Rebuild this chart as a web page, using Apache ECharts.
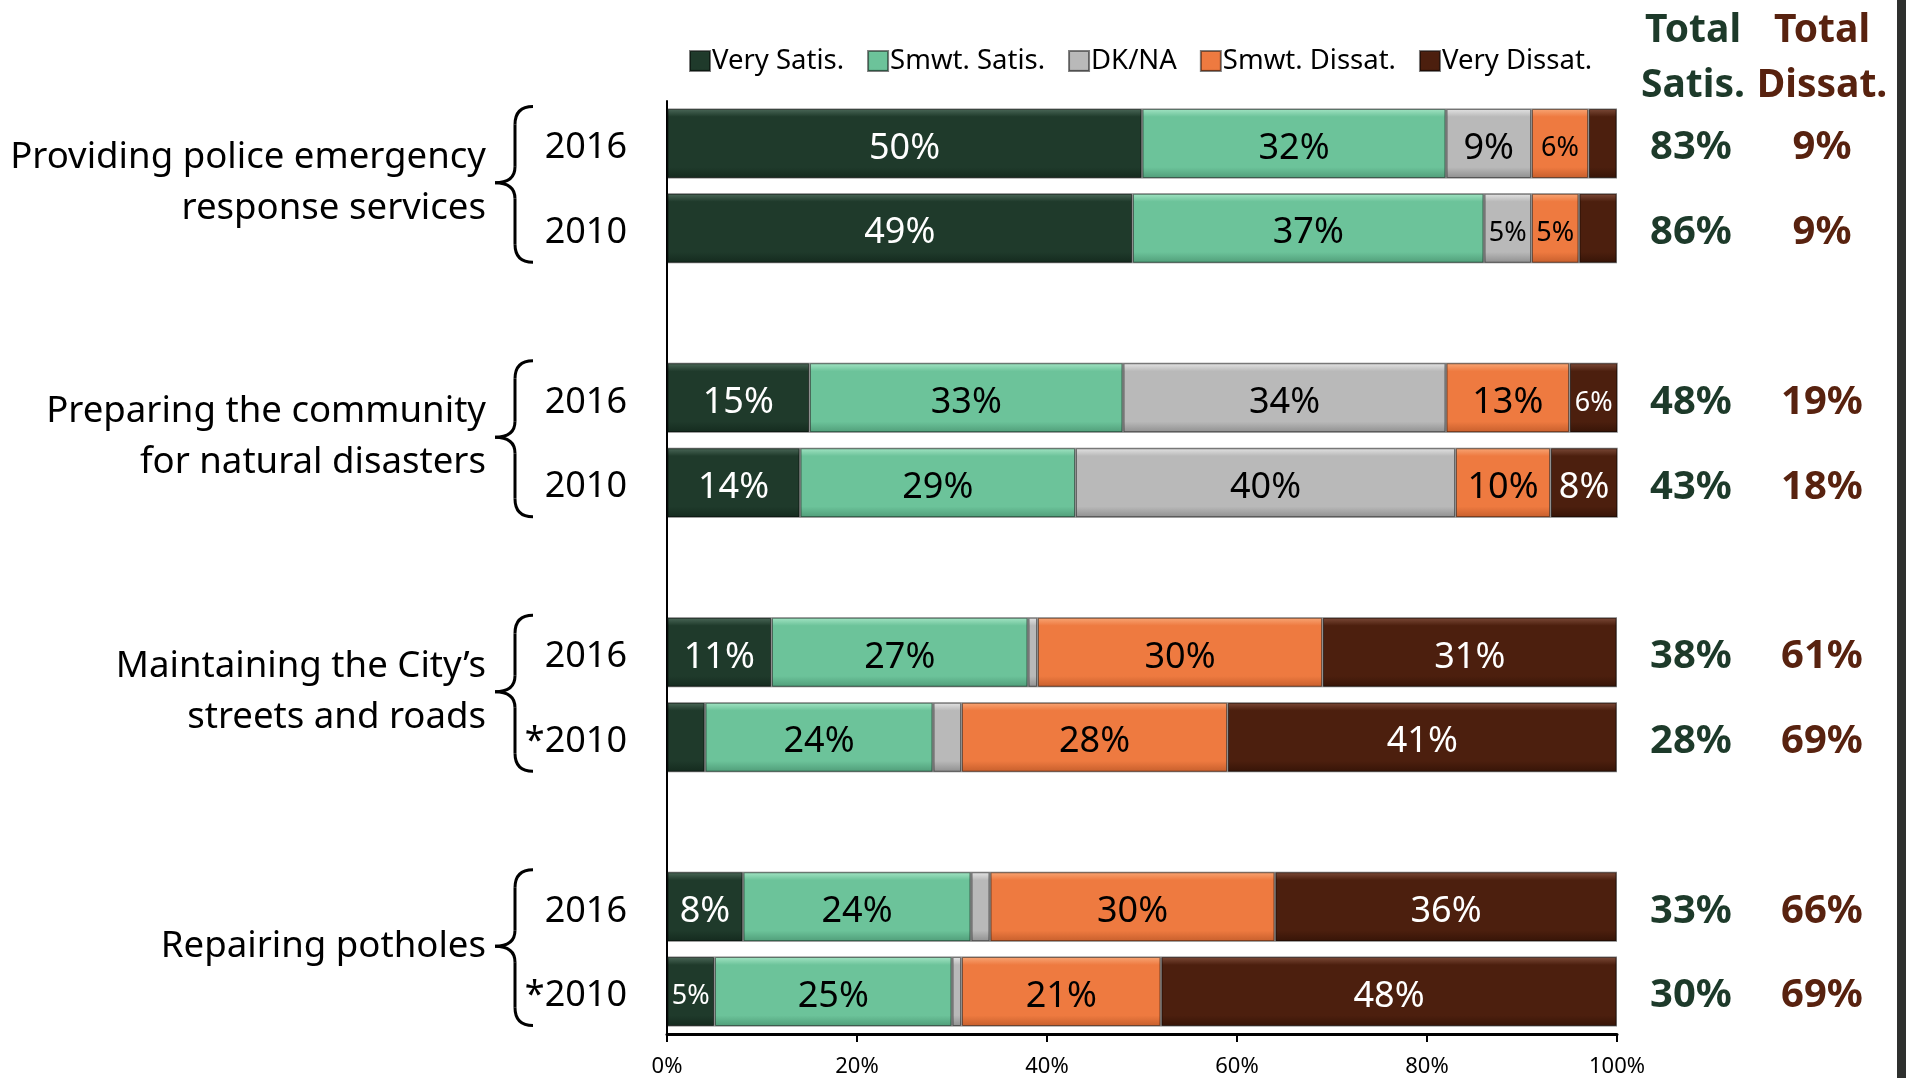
<!DOCTYPE html>
<html>
<head>
<meta charset="utf-8">
<script src="https://cdn.jsdelivr.net/npm/echarts@6/dist/echarts.min.js"></script>
<style>
  html, body { margin: 0; padding: 0; background: #fff; }
  #main { width: 1906px; height: 1078px; }
</style>
</head>
<body>
<div id="main"></div>
<script>
// rows top to bottom, empty slots are the gaps between groups
var years = ['2016', '2010', '', '2016', '2010', '', '2016', '*2010', '', '2016', '*2010'];
var verySatis   = [50, 49, null, 15, 14, null, 11, 4, null, 8, 5];
var smwtSatis   = [32, 37, null, 33, 29, null, 27, 24, null, 24, 25];
var dkna        = [9, 5, null, 34, 40, null, 1, 3, null, 2, 1];
var smwtDissat  = [6, 5, null, 13, 10, null, 30, 28, null, 30, 21];
var veryDissat  = [3, 4, null, 6, 8, null, 31, 41, null, 36, 48];
var totalSatis  = [83, 86, null, 48, 43, null, 38, 28, null, 33, 30];
var totalDissat = [9, 9, null, 19, 18, null, 61, 69, null, 66, 69];
var groups = [
  'Providing police emergency\nresponse services',
  'Preparing the community\nfor natural disasters',
  'Maintaining the City\u2019s\nstreets and roads',
  'Repairing potholes'
];
var groupRows = [[0, 1], [3, 4], [6, 7], [9, 10]];
var xTicks = [0, 20, 40, 60, 80, 100];

var FONT = '"Noto Sans", sans-serif';

function grad(top, base, bottom) {
  return new echarts.graphic.LinearGradient(0, 0, 0, 1, [
    { offset: 0, color: top },
    { offset: 0.12, color: base },
    { offset: 0.84, color: base },
    { offset: 1, color: bottom }
  ]);
}

function barSeries(name, data, color, labelColor) {
  return {
    name: name,
    type: 'bar',
    stack: 'all',
    data: data,
    barWidth: 70,
    clip: true,
    itemStyle: { color: color, borderColor: 'rgba(0,0,0,0.5)', borderWidth: 1.5 },
    label: {
      show: true,
      position: 'inside',
      offset: [0, 5],
      color: labelColor,
      formatter: function (p) {
        if (p.value == null || p.value < 5) return '';
        return p.value <= 6 ? '{s|' + p.value + '%}' : '{n|' + p.value + '%}';
      },
      rich: {
        n: { fontSize: 36, fontFamily: FONT, color: labelColor },
        s: { fontSize: 27, fontFamily: FONT, color: labelColor }
      }
    }
  };
}

// right-hand total columns as extra category axes
function totalAxis(values, margin, color) {
  return {
    type: 'category',
    inverse: true,
    position: 'right',
    data: values.map(function (v) { return v == null ? '' : v + '%'; }),
    axisLine: { show: false },
    axisTick: { show: false },
    axisLabel: {
      margin: margin, align: 'center',
      formatter: function (v) { return v ? '{t|' + v + '}' : ''; },
      rich: { t: { fontSize: 40, fontWeight: 'bold', fontFamily: FONT, color: color, padding: [9, 0, 0, 0] } }
    }
  };
}

var chart = echarts.init(document.getElementById('main'));

var option = {
  animation: false,
  backgroundColor: '#fff',
  textStyle: { fontFamily: FONT },
  legend: {
    left: 684,
    top: 42,
    itemWidth: 20,
    itemHeight: 20,
    itemGap: 23,
    icon: 'rect',
    textStyle: { fontSize: 27.5, color: '#000', fontFamily: FONT, padding: [0, 0, 0, -3] },
    data: ['Very Satis.', 'Smwt. Satis.', 'DK/NA', 'Smwt. Dissat.', 'Very Dissat.']
  },
  grid: { left: 667, top: 101, width: 950, height: 937 },
  xAxis: {
    type: 'value',
    min: 0,
    max: 100,
    interval: 20,
    splitLine: { show: false },
    axisLine: { show: true, lineStyle: { color: '#000', width: 3 } },
    axisTick: { show: true, length: 8, lineStyle: { color: '#000', width: 2 } },
    axisLabel: {
      margin: 22, fontSize: 22, color: '#000',
      formatter: function (v) { return xTicks.indexOf(v) >= 0 ? v + '%' : ''; }
    }
  },
  yAxis: [
    {
      type: 'category',
      inverse: true,
      data: years,
      axisLine: { show: true, lineStyle: { color: '#000', width: 2 } },
      axisTick: { show: false },
      axisLabel: {
        margin: 40,
        formatter: function (v) { return v ? '{y|' + v + '}' : ''; },
        rich: { y: { fontSize: 36, fontFamily: FONT, color: '#000', padding: [9, 0, 0, 0] } }
      }
    },
    totalAxis(totalSatis, 74, '#1d3a2a'),
    totalAxis(totalDissat, 205, '#58220f')
  ],
  series: [
    barSeries('Very Satis.', verySatis, grad('#4d6a5a', '#1f3a2b', '#142a1e'), '#fff'),
    barSeries('Smwt. Satis.', smwtSatis, grad('#a6e6c6', '#6cc39a', '#4f9c78'), '#000'),
    barSeries('DK/NA', dkna, grad('#e6e6e6', '#b9b9b9', '#8e8e8e'), '#000'),
    barSeries('Smwt. Dissat.', smwtDissat, grad('#f9a878', '#ee7a40', '#c65e2c'), '#000'),
    barSeries('Very Dissat.', veryDissat, grad('#7e4c3a', '#4c1f0e', '#361407'), '#fff')
  ]
};

chart.setOption(option);

// group labels and braces, placed on the category rows
var graphics = [];
var braceStyle = { fill: null, stroke: '#000', lineWidth: 3 };
function curve(x1, y1, cx, cy, x2, y2) {
  graphics.push({ type: 'bezierCurve', shape: { x1: x1, y1: y1, cpx1: cx, cpy1: cy, x2: x2, y2: y2 }, style: braceStyle });
}
function seg(x1, y1, x2, y2) {
  graphics.push({ type: 'line', shape: { x1: x1, y1: y1, x2: x2, y2: y2 }, style: braceStyle });
}
groupRows.forEach(function (rows, i) {
  var ya = chart.convertToPixel({ yAxisIndex: 0 }, rows[0]);
  var yb = chart.convertToPixel({ yAxisIndex: 0 }, rows[1]);
  var ym = (ya + yb) / 2;
  var yt = ya - 37, ybt = yb + 34, tip = ym - 3;
  var xe = 533, xl = 515, xt = 495;
  curve(xe, yt, xl, yt, xl, yt + 18);
  seg(xl, yt + 18, xl, tip - 16);
  curve(xl, tip - 16, xl, tip, xt, tip);
  curve(xt, tip, xl, tip, xl, tip + 16);
  seg(xl, tip + 16, xl, ybt - 18);
  curve(xl, ybt - 18, xl, ybt, xe, ybt);
  graphics.push({
    type: 'text',
    x: 486,
    y: ym - 3,
    style: {
      text: groups[i], fontSize: 36.6, fontFamily: FONT, fill: '#000',
      align: 'right', verticalAlign: 'middle', lineHeight: 51
    }
  });
});

graphics.push({
  type: 'text', x: 1693, y: 58,
  style: { text: 'Total\nSatis.', fontSize: 39, fontWeight: 'bold', fontFamily: FONT, fill: '#1d3a2a', align: 'center', verticalAlign: 'middle', lineHeight: 55 }
});
graphics.push({
  type: 'text', x: 1822, y: 58,
  style: { text: 'Total\nDissat.', fontSize: 39, fontWeight: 'bold', fontFamily: FONT, fill: '#58220f', align: 'center', verticalAlign: 'middle', lineHeight: 55 }
});
graphics.push({
  type: 'rect', shape: { x: 1897, y: 0, width: 9, height: 1078 },
  style: { fill: '#2e302e' }
});

chart.setOption({ graphic: graphics });
</script>
</body>
</html>
